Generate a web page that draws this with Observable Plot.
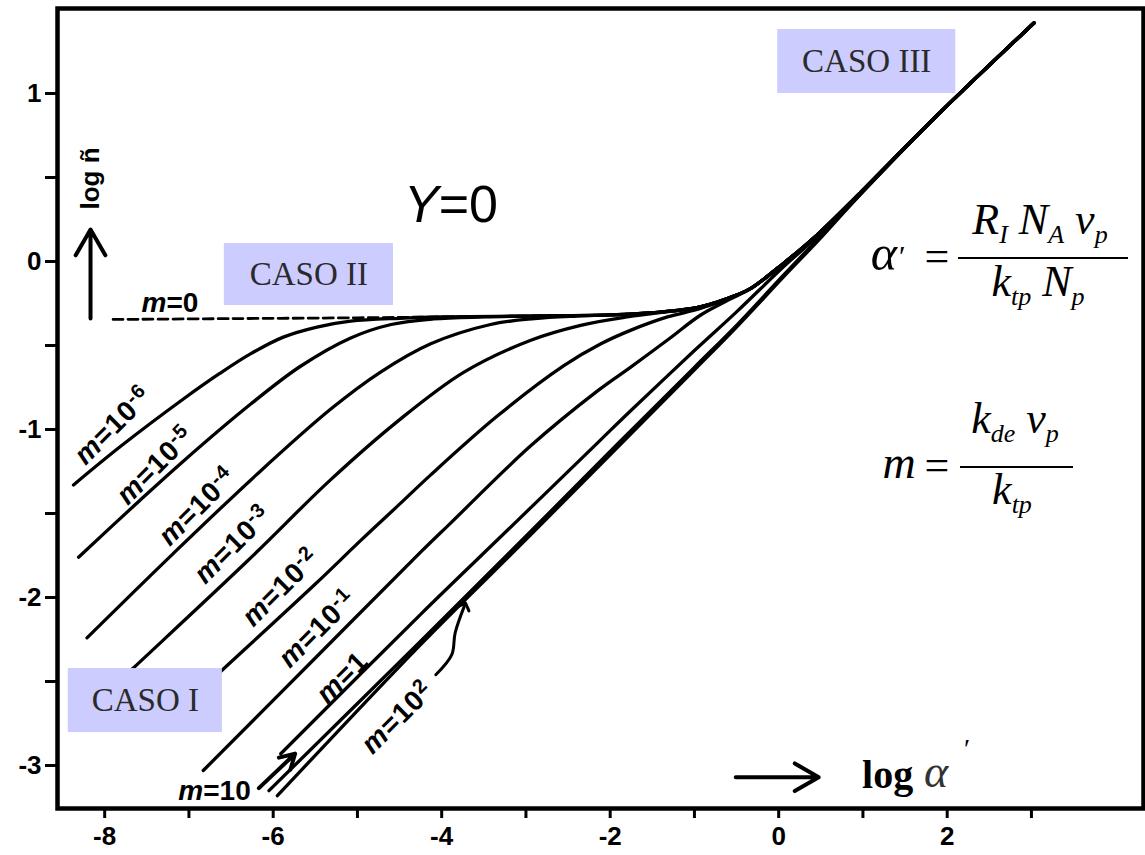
<!DOCTYPE html>
<html><head><meta charset="utf-8">
<script src="https://cdn.jsdelivr.net/npm/d3@7"></script>
<script src="https://cdn.jsdelivr.net/npm/@observablehq/plot@0.6"></script>
<style>
html,body{margin:0;padding:0;background:#fff;}
#chart{width:1145px;height:855px;overflow:hidden;}
</style></head><body><div id="chart"></div>
<script>
// ---- axes ----
const xDomain = [-8.56, 4.33];
const yDomain = [-3.256, 1.506];
const xTickValues = [-8,-7,-6,-5,-4,-3,-2,-1,0,1,2,3];
const xTickLabels = [-8,-6,-4,-2,0,2];
const yTickValues = [-3,-2.5,-2,-1.5,-1,-0.5,0,0.5,1];
const yTickLabels = [-3,-2,-1,0,1];

// ---- curves: [log alpha', log n] (Y = 0) ----
const curve_m0 = [[-7.9,-0.345],[-6.5,-0.34],[-5.0,-0.335],[-4.0,-0.33],[-3.0,-0.325],[-2.0,-0.318],[-1.5,-0.305],[-0.93,-0.27],[-0.5,-0.2],[-0.33,-0.16],[0.06,-0.01],[0.46,0.16],[0.97,0.41],[1.84,0.85],[3.03,1.42]];
const curve_m1e6 = [[-8.37,-1.33],[-7.81,-1.10],[-7.07,-0.82],[-6.63,-0.665],[-6.27,-0.55],[-5.88,-0.45],[-5.48,-0.39],[-5.08,-0.355],[-4.5,-0.338],[-4.0,-0.33],[-3.0,-0.325],[-2.0,-0.318],[-1.5,-0.305],[-0.93,-0.27],[-0.5,-0.2],[-0.33,-0.16],[0.06,-0.01],[0.46,0.16],[0.97,0.41],[1.84,0.85],[3.03,1.42]];
const curve_m1e5 = [[-8.31,-1.76],[-7.6,-1.43],[-7.07,-1.19],[-6.27,-0.85],[-5.68,-0.625],[-5.08,-0.455],[-4.6,-0.375],[-4.1,-0.342],[-3.5,-0.33],[-3.0,-0.325],[-2.0,-0.318],[-1.5,-0.305],[-0.93,-0.27],[-0.5,-0.2],[-0.33,-0.16],[0.06,-0.01],[0.46,0.16],[0.97,0.41],[1.84,0.85],[3.03,1.42]];
const curve_m1e4 = [[-8.21,-2.24],[-7.19,-1.74],[-6.2,-1.27],[-5.32,-0.88],[-4.73,-0.66],[-4.13,-0.49],[-3.42,-0.375],[-2.9,-0.34],[-2.4,-0.325],[-2.0,-0.318],[-1.5,-0.305],[-0.93,-0.27],[-0.5,-0.2],[-0.33,-0.16],[0.06,-0.01],[0.46,0.16],[0.97,0.41],[1.84,0.85],[3.03,1.42]];
const curve_m1e3 = [[-8.0,-2.58],[-7.66,-2.42],[-6.3,-1.78],[-5.32,-1.3],[-4.52,-0.95],[-3.74,-0.66],[-2.95,-0.47],[-2.35,-0.38],[-1.8,-0.33],[-1.5,-0.31],[-0.93,-0.27],[-0.5,-0.2],[-0.33,-0.16],[0.06,-0.01],[0.46,0.16],[0.97,0.41],[1.84,0.85],[3.03,1.42]];
const curve_m1e2 = [[-6.75,-2.5],[-6.6,-2.43],[-5.5,-1.92],[-4.96,-1.66],[-4.49,-1.44],[-4.13,-1.27],[-3.34,-0.92],[-2.55,-0.62],[-2.11,-0.49],[-1.76,-0.41],[-1.32,-0.33],[-0.93,-0.28],[-0.5,-0.2],[-0.33,-0.16],[0.06,-0.01],[0.46,0.16],[0.97,0.41],[1.84,0.85],[3.03,1.42]];
const curve_m1e1 = [[-6.83,-3.03],[-5.5,-2.36],[-4.25,-1.73],[-3.9,-1.56],[-2.95,-1.1],[-2.15,-0.77],[-1.76,-0.63],[-1.3,-0.46],[-0.93,-0.32],[-0.6,-0.23],[-0.33,-0.16],[0.06,-0.01],[0.46,0.16],[0.97,0.41],[1.84,0.85],[3.03,1.42]];
const curve_m1 = [[-5.91,-2.93],[-4.25,-2.1],[-3.22,-1.6],[-2.11,-1.06],[-1.76,-0.89],[-1.0,-0.53],[-0.5,-0.3],[0.06,-0.03],[0.46,0.15],[0.97,0.41],[1.84,0.85],[3.03,1.42]];
const curve_m10 = [[-6.05,-3.15],[-4.25,-2.26],[-2.95,-1.61],[-1.88,-1.07],[-1.0,-0.63],[-0.5,-0.38],[0.06,-0.08],[0.46,0.13],[0.97,0.40],[1.84,0.85],[3.03,1.42]];
const curve_m100 = [[-5.95,-3.18],[-4.25,-2.28],[-2.95,-1.63],[-1.88,-1.09],[-1.0,-0.645],[-0.5,-0.39],[0.06,-0.09],[0.46,0.12],[0.97,0.40],[1.84,0.85],[3.03,1.42]];

const seriesNames = ["0","1e-6","1e-5","1e-4","1e-3","1e-2","1e-1","1","10","100"];
const seriesPoints = [curve_m0,curve_m1e6,curve_m1e5,curve_m1e4,curve_m1e3,curve_m1e2,curve_m1e1,curve_m1,curve_m10,curve_m100];

// ---- annotation texts ----
const curveLabelBase = ["0","10","10","10","10","10","10","1","10","10"];
const curveLabelExp  = ["","-6","-5","-4","-3","-2","-1","","","2"];
const caseNames = ["CASO I","CASO II","CASO III"];

const rows = [];
seriesNames.forEach((m, i) => seriesPoints[i].forEach(([x, y]) => rows.push({m, x, y})));

// annotation placement (data units)
const labelPos = [[-7.22,-0.244,0],[-7.90,-0.976,-45],[-7.40,-1.214,-45],[-6.90,-1.458,-45],[-6.48,-1.685,-45],[-5.91,-1.94,-45],[-5.475,-2.185,-45],[-5.18,-2.476,-45],[-6.69,-3.149,0],[-4.525,-2.714,-45]];
const boxPos = [[-8.432,-6.603,-2.804,-2.423],[-6.58,-4.572,-0.262,0.107],[-0.012,2.102,1.0,1.381]];
const boxes = caseNames.map((t, i) => ({t, x1: boxPos[i][0], x2: boxPos[i][1], y1: boxPos[i][2], y2: boxPos[i][3]}));
const arrowSpecs = [
  {x1:-8.168, y1:-0.34, x2:-8.168, y2:0.19},
  {x1:-0.51, y1:-3.07, x2:0.475, y2:-3.07},
  {x1:-6.17, y1:-3.135, x2:-5.74, y2:-2.93}
];
const m100Pointer = [[-4.07,-2.46],[-3.88,-2.34],[-3.84,-2.21],[-3.73,-2.05]];

const plot = Plot.plot({
  width: 1145, height: 855,
  marginLeft: 57, marginRight: 2, marginTop: 8, marginBottom: 47,
  x: {domain: xDomain, label: null},
  y: {domain: yDomain, label: null},
  style: {fontFamily: "'Liberation Sans', Arial, sans-serif", background: "#fff", color: "#000", overflow: "visible"},
  marks: [
    Plot.axisX({ticks: xTickValues, tickSize: 10, strokeWidth: 3, tickFormat: () => "", label: null}),
    Plot.axisX({ticks: xTickLabels, tickSize: 0, tickPadding: 18, tickFormat: d => String(d), fontSize: 26, fontWeight: "bold", label: null}),
    Plot.axisY({ticks: yTickValues, tickSize: 12, strokeWidth: 3, tickFormat: () => "", label: null}),
    Plot.axisY({ticks: yTickLabels, tickSize: 0, tickPadding: 16, tickFormat: d => String(d), fontSize: 26, fontWeight: "bold", label: null}),
    Plot.line(rows.filter(d => d.m === "0"), {x: "x", y: "y", stroke: "#000", strokeWidth: 2.8, strokeDasharray: "10,5", curve: "catmull-rom"}),
    Plot.line(rows.filter(d => d.m !== "0"), {x: "x", y: "y", z: "m", stroke: "#000", strokeWidth: 3.3, curve: "catmull-rom"}),
    Plot.rect(boxes, {x1: "x1", x2: "x2", y1: "y1", y2: "y2", fill: "#ccccff"}),
    Plot.text(boxes, {x: d => (d.x1 + d.x2) / 2, y: d => (d.y1 + d.y2) / 2, text: "t", fontFamily: "'Liberation Serif', 'Times New Roman', serif", fontSize: 33, fill: "#2a2a2a"}),
    Plot.arrow(arrowSpecs, {x1: "x1", y1: "y1", x2: "x2", y2: "y2", stroke: "#000", strokeWidth: 4, headLength: 16}),
    Plot.line(m100Pointer, {x: d => d[0], y: d => d[1], stroke: "#000", strokeWidth: 3, curve: "catmull-rom", markerEnd: "arrow"}),
    Plot.text([{x: -8.168, y: 0.494, t: "log ñ"}], {x: "x", y: "y", text: "t", rotate: -90, fontSize: 26, fontWeight: "bold"}),
    Plot.frame({stroke: "#000", strokeWidth: 4.5})
  ]
});
document.getElementById("chart").appendChild(plot);

const sx = plot.scale("x"), sy = plot.scale("y");
const svg = d3.select(plot);
const serif = "'Liberation Serif', 'Times New Roman', serif";
const sans = "'Liberation Sans', Arial, sans-serif";

// curve labels
labelPos.forEach(([x, y, rot], i) => {
  const t = svg.append("text")
    .attr("transform", `translate(${sx.apply(x)},${sy.apply(y)}) rotate(${rot})`)
    .attr("text-anchor", "middle").attr("dy", "0.35em")
    .attr("font-family", sans).attr("font-weight", "bold").attr("font-size", 28)
    .attr("letter-spacing", rot ? 1 : 0).attr("fill", "#000");
  t.append("tspan").attr("font-style", "italic").text("m");
  t.append("tspan").text("=" + curveLabelBase[i]);
  if (curveLabelExp[i]) t.append("tspan").attr("dy", -9).attr("font-size", 20).text(curveLabelExp[i]);
});

// Y = 0
{
  const t = svg.append("text").attr("x", sx.apply(-3.884)).attr("y", sy.apply(0.345) + 19)
    .attr("text-anchor", "middle").attr("font-family", sans).attr("font-size", 52).attr("fill", "#000");
  t.append("tspan").attr("font-style", "italic").text("Y");
  t.append("tspan").text("=0");
}

function frac(bx, by, barLen, numParts, denParts, numDx, denDx, numDy, denDy) {
  svg.append("line").attr("x1", bx).attr("x2", bx + barLen).attr("y1", by).attr("y2", by)
    .attr("stroke", "#000").attr("stroke-width", 2);
  [[numParts, numDx, numDy], [denParts, denDx, denDy]].forEach(([parts, dx, dy]) => {
    const t = svg.append("text").attr("x", bx + dx).attr("y", by + dy).attr("text-anchor", "middle")
      .attr("font-family", serif).attr("font-style", "italic").attr("font-size", 44).attr("fill", "#000");
    parts.forEach(([s, sub]) => {
      if (sub) t.append("tspan").attr("dy", 9).attr("font-size", 26).text(s);
      else t.append("tspan").attr("dy", t.node().childNodes.length ? -9 : 0).text(s);
    });
  });
}
// alpha' formula
{
  const bx = sx.apply(2.134), by = sy.apply(0.018);
  svg.append("text").attr("x", bx - 74).attr("y", by + 12).attr("text-anchor", "middle")
    .attr("font-family", serif).attr("font-style", "italic").attr("font-size", 50).text("α");
  svg.append("text").attr("x", bx - 59).attr("y", by + 8).attr("text-anchor", "start")
    .attr("font-family", serif).attr("font-size", 30).text("′");
  svg.append("text").attr("x", bx - 21).attr("y", by + 13).attr("text-anchor", "middle")
    .attr("font-family", serif).attr("font-size", 44).text("=");
  frac(bx, by, 170, [["R"],["I",1],[" N"],["A",1],[" v"],["p",1]], [["k"],["tp",1],[" N"],["p",1]], 82, 80, -15, 47);
}
// m formula
{
  const bx = sx.apply(2.158), by = sy.apply(-1.226);
  svg.append("text").attr("x", bx - 61).attr("y", by + 11).attr("text-anchor", "middle")
    .attr("font-family", serif).attr("font-style", "italic").attr("font-size", 46).text("m");
  svg.append("text").attr("x", bx - 23).attr("y", by + 13).attr("text-anchor", "middle")
    .attr("font-family", serif).attr("font-size", 44).text("=");
  frac(bx, by, 113, [["k"],["de",1],[" v"],["p",1]], [["k"],["tp",1]], 55, 52, -25, 46);
}
// log alpha'
{
  const x0 = sx.apply(0.995), y0 = sy.apply(-3.137);
  svg.append("text").attr("x", x0).attr("y", y0).attr("text-anchor", "start").attr("font-family", serif)
    .attr("font-weight", "bold").attr("font-size", 40).text("log");
  svg.append("text").attr("x", x0 + 62).attr("y", y0 - 1).attr("text-anchor", "start").attr("font-family", serif)
    .attr("font-style", "italic").attr("font-size", 46).attr("fill", "#333").text("α");
  svg.append("text").attr("x", x0 + 102).attr("y", y0 - 30).attr("text-anchor", "start").attr("font-family", serif)
    .attr("font-size", 28).text("′");
}
</script></body></html>
